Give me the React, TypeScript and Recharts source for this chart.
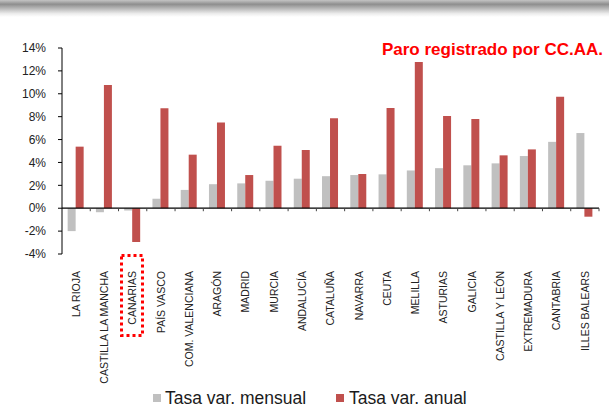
import React from 'react';
import { BarChart, Bar, XAxis, YAxis, ReferenceLine, Legend } from 'recharts';

const regions = [
  'LA RIOJA', 'CASTILLA LA MANCHA', 'CANARIAS', 'PAÍS VASCO', 'COM. VALENCIANA',
  'ARAGÓN', 'MADRID', 'MURCIA', 'ANDALUCÍA', 'CATALUÑA', 'NAVARRA', 'CEUTA',
  'MELILLA', 'ASTURIAS', 'GALICIA', 'CASTILLA Y LEÓN', 'EXTREMADURA', 'CANTABRIA',
  'ILLES BALEARS',
];
const tasaMensual = [
  -2.0, -0.35, -0.2, 0.83, 1.6, 2.1, 2.17, 2.4, 2.58, 2.8, 2.9, 2.96, 3.3, 3.5,
  3.75, 3.92, 4.56, 5.8, 6.57,
];
const tasaAnual = [
  5.38, 10.77, -2.95, 8.73, 4.68, 7.5, 2.9, 5.46, 5.09, 7.86, 2.99, 8.76, 12.78,
  8.06, 7.8, 4.62, 5.14, 9.75, -0.74,
];
const yTicks = [-4, -2, 0, 2, 4, 6, 8, 10, 12, 14];

const data = regions.map((name, i) => ({
  name,
  mensual: tasaMensual[i],
  anual: tasaAnual[i],
}));

const W = 609;
const H = 419;
const PLOT_TOP = 48;
const PLOT_BOTTOM = 254;
const Y_MIN = -4;
const Y_MAX = 14;
const FONT = 'Arial, "Liberation Sans", sans-serif';

// y of the zero line, relative to the plot bottom
const zeroUp = ((0 - Y_MIN) / (Y_MAX - Y_MIN)) * (PLOT_BOTTOM - PLOT_TOP);

const RegionTick = (props: any) => {
  const { x, y, payload } = props;
  const half = payload?.offset ?? 14.1;
  const y0 = y - zeroUp;
  return (
    <g>
      <line x1={x + half} x2={x + half} y1={y0} y2={y0 + 3} stroke="#444" strokeWidth={1} />
      <g transform={`translate(${x},${y + 17})`}>
        <text
          transform="rotate(-90)"
          textAnchor="end"
          dy="0.36em"
          fontSize={10.5}
          fontFamily={FONT}
          fill="#222"
        >
          {payload.value}
        </text>
      </g>
    </g>
  );
};

const LegendBox = () => (
  <div
    style={{
      height: 26,
      paddingTop: 5,
      paddingLeft: 153,
      boxSizing: 'border-box',
      display: 'flex',
      alignItems: 'center',
      fontFamily: FONT,
      fontSize: 17.5,
      color: '#1a1a1a',
      whiteSpace: 'nowrap',
    }}
  >
    <span style={{ width: 8, height: 8, background: '#C0C0C0', marginRight: 4, position: 'relative', top: -1 }} />
    <span>Tasa var. mensual</span>
    <span style={{ width: 8, height: 8, background: '#C0504D', marginLeft: 30, marginRight: 5, position: 'relative', top: -1 }} />
    <span>Tasa var. anual</span>
  </div>
);

export default function App() {
  return (
    <div style={{ position: 'absolute', left: 0, top: 0, width: W, height: H, background: '#fff', fontFamily: FONT }}>
      <div
        style={{
          position: 'absolute', left: 0, top: 0, width: W, height: 17,
          background: 'linear-gradient(to bottom, #c4c4c4 0%, #8e8e8e 25%, #b8b8b8 50%, #ececec 80%, #ffffff 100%)',
        }}
      />
      <div
        style={{
          position: 'absolute', right: 6, top: 40, fontSize: 17, fontWeight: 'bold',
          color: '#ff0000', fontFamily: FONT, whiteSpace: 'nowrap',
        }}
      >
        Paro registrado por CC.AA.
      </div>
      <BarChart
        width={W}
        height={H}
        data={data}
        margin={{ top: PLOT_TOP, right: 10, left: 0, bottom: 10 }}
        barCategoryGap="20%"
        barGap={0}
      >
        <YAxis
          width={62}
          domain={[Y_MIN, Y_MAX]}
          ticks={yTicks}
          allowDataOverflow
          tickFormatter={(v) => `${v}%`}
          tick={{ fontSize: 12, fill: '#222', fontFamily: FONT }}
          tickSize={4}
          tickMargin={12}
          stroke="#000"
          tickLine={{ stroke: '#000' }}
        />
        <XAxis
          dataKey="name"
          interval={0}
          height={129}
          axisLine={false}
          tickLine={false}
          tickSize={0}
          tickMargin={0}
          tick={<RegionTick />}
        />
        <Legend
          verticalAlign="bottom"
          height={26}
          wrapperStyle={{ left: 0, width: W }}
          content={<LegendBox />}
        />
        <Bar dataKey="mensual" name="Tasa var. mensual" fill="#C0C0C0" isAnimationActive={false} />
        <Bar dataKey="anual" name="Tasa var. anual" fill="#C0504D" isAnimationActive={false} />
        <ReferenceLine y={0} stroke="#000" strokeWidth={1.2} />
      </BarChart>
      <svg
        width={W}
        height={H}
        style={{ position: 'absolute', left: 0, top: 0, pointerEvents: 'none' }}
      >
        <rect
          x={121.5}
          y={255.5}
          width={21}
          height={80}
          fill="none"
          stroke="#ff0000"
          strokeWidth={3}
          strokeDasharray="3 3"
        />
      </svg>
    </div>
  );
}
